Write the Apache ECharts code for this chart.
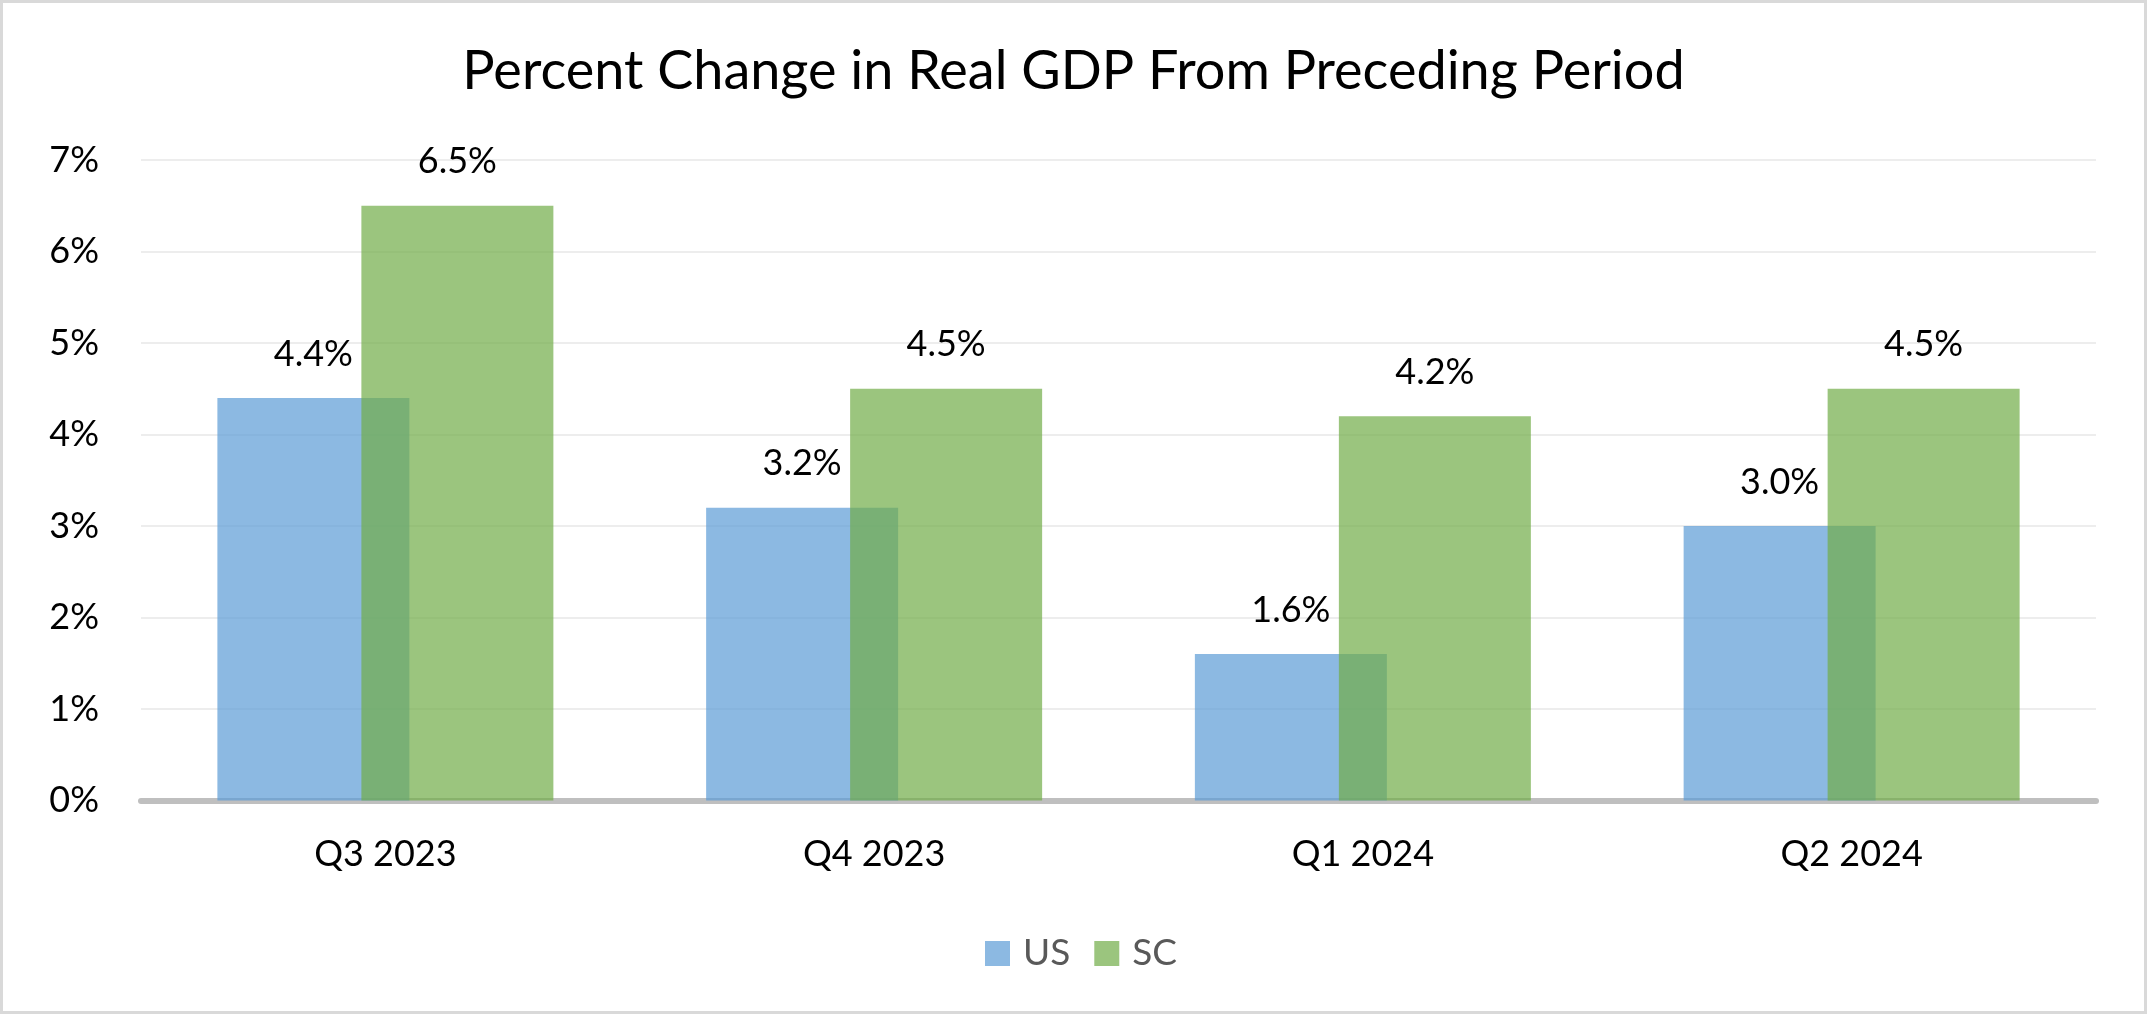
<!DOCTYPE html>
<html>
<head>
<meta charset="utf-8">
<script src="https://cdn.jsdelivr.net/npm/echarts@6/dist/echarts.min.js"></script>
<style>
html,body{margin:0;padding:0;background:#fff;}
#chart{width:2147px;height:1014px;}
</style>
</head>
<body>
<div id="chart"></div>
<script>
const categories = ['Q3 2023', 'Q4 2023', 'Q1 2024', 'Q2 2024'];
const usValues = [4.4, 3.2, 1.6, 3.0];
const scValues = [6.5, 4.5, 4.2, 4.5];
const seriesNames = ['US', 'SC'];
const titleText = 'Percent Change in Real GDP From Preceding Period';

const FONT = 'Lato';
const chart = echarts.init(document.getElementById('chart'), null, {renderer: 'canvas'});
const labelCfg = {
  show: true,
  position: 'top',
  distance: 26,
  color: '#000',
  fontFamily: FONT,
  fontSize: 36,
  formatter: p => p.value.toFixed(1) + '%'
};
chart.setOption({
  backgroundColor: '#fff',
  animation: false,
  title: {
    text: titleText,
    left: 'center',
    top: 40,
    textStyle: {fontFamily: FONT, fontSize: 54, fontWeight: 'normal', color: '#000'}
  },
  legend: {
    data: seriesNames,
    left: 980,
    top: 930,
    icon: 'rect',
    itemWidth: 25,
    itemHeight: 25,
    itemGap: 24,
    textStyle: {fontFamily: FONT, fontSize: 37, color: '#595959', padding: [0, 0, 0, 8]}
  },
  grid: {left: 141, right: 51, top: 160, bottom: 213.5, containLabel: false},
  xAxis: {
    type: 'category',
    data: categories,
    axisLine: {lineStyle: {color: '#bfbfbf', width: 6}},
    axisTick: {show: false},
    axisLabel: {fontFamily: FONT, fontSize: 36, color: '#000', margin: 36}
  },
  yAxis: {
    type: 'value',
    min: 0,
    max: 7,
    interval: 1,
    axisLine: {show: false},
    axisTick: {show: false},
    splitLine: {lineStyle: {color: '#ededed', width: 2}},
    axisLabel: {fontFamily: FONT, fontSize: 36, color: '#000', margin: 42, formatter: '{value}%'}
  },
  series: [
    {
      name: seriesNames[0],
      type: 'bar',
      data: usValues,
      barWidth: 192,
      barGap: '-25%',
      itemStyle: {color: 'rgba(91,155,213,0.7)'},
      label: labelCfg
    },
    {
      name: seriesNames[1],
      type: 'bar',
      data: scValues,
      barWidth: 192,
      barGap: '-25%',
      itemStyle: {color: 'rgba(112,173,71,0.7)'},
      label: labelCfg
    }
  ],
  graphic: [{
    type: 'rect',
    silent: true,
    z: 100,
    shape: {x: 1.5, y: 1.5, width: 2144, height: 1011},
    style: {fill: 'none', stroke: '#d9d9d9', lineWidth: 3}
  }]
});
</script>
</body>
</html>
